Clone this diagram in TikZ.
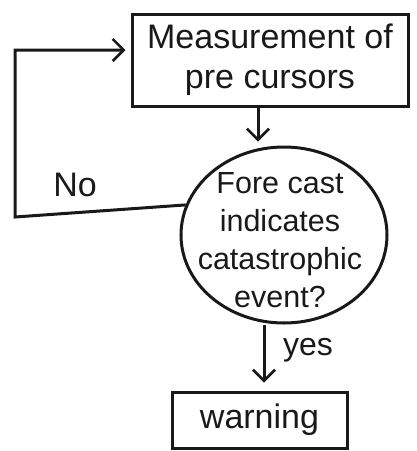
\documentclass[tikz,border=0pt]{standalone}
\usepackage{fontspec}
\setmainfont{Liberation Sans}
\usetikzlibrary{shapes.geometric,arrows.meta}
\begin{document}
\begin{tikzpicture}[x=1pt,y=-1pt,
  ink/.style={line width=3pt, draw=black!90},
  flow/.style={ink, -{Straight Barb[length=11pt,width=22pt,line width=2.6pt]}},
  stepbox/.style={ink, rectangle, inner sep=0pt},
  decision/.style={ink, ellipse, inner sep=0pt},
  hand/.style={font=\fontsize{30}{38}\selectfont, text=black!90}
]
\useasboundingbox (0,0) rectangle (417,451);

% process boxes and decision
\node[stepbox, hand, minimum width=276pt, minimum height=92pt, align=center,
      font=\fontsize{34}{40}\selectfont]
  (meas) at (270,60) {Measurement of\\pre cursors};
\node[decision, minimum width=206pt, minimum height=176pt] (fc) at (284,235) {};
\node[hand, align=center, inner sep=0pt, font=\fontsize{30.5}{38}\selectfont]
  (fctext) at (280,240) {Fore cast\\indicates\\catastrophic\\event?};
\node[stepbox, hand, minimum width=175pt, minimum height=56pt,
      font=\fontsize{34}{40}\selectfont]
  (warn) at (259.5,420) {warning};

% feedback loop corners
\coordinate (c1) at (15,217);
\coordinate (c2) at (15,50);

% connectors
\draw[flow] ([xshift=-12pt]meas.south) -- ([xshift=-12pt,yshift=4pt]meas.south |- fc.north);
\draw[flow] (fc.163) -- (c1) -- (c2) -- ([xshift=-5pt]c2 -| meas.west);
\draw[flow, shorten >=8pt] ([xshift=-20pt]fc.south) -- ([xshift=-20pt]fc.south |- warn.north);

% branch labels
\node[hand, font=\fontsize{34}{40}\selectfont] (no) at (75,185) {No};
\node[hand, font=\fontsize{32}{38}\selectfont] (yes) at (308,350) {yes};
\end{tikzpicture}
\end{document}
